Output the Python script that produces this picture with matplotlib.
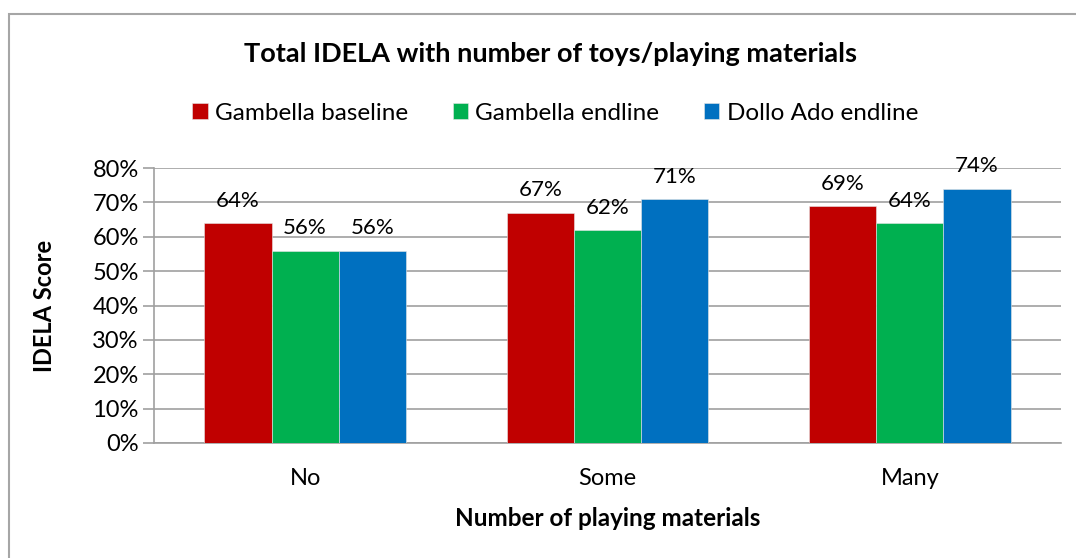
import matplotlib.pyplot as plt
import numpy as np
from matplotlib.patches import Rectangle

plt.rcParams['font.family'] = ['Lato', 'DejaVu Sans']

categories = ['No', 'Some', 'Many']
series_names = ['Gambella baseline', 'Gambella endline', 'Dollo Ado endline']
gambella_baseline = [64, 67, 69]
gambella_endline = [56, 62, 64]
dollo_ado_endline = [56, 71, 74]
colors = ['#C00000', '#00B050', '#0070C0']

fig = plt.figure(figsize=(10.76, 5.58), dpi=100)
ax = fig.add_axes([0.1431, 0.2061, 0.9861 - 0.1431, 0.6989 - 0.2061])

x = np.arange(len(categories))
width = 0.222
series = [gambella_baseline, gambella_endline, dollo_ado_endline]
for i, (vals, name, c) in enumerate(zip(series, series_names, colors)):
    pos = x + (i - 1) * width
    ax.bar(pos, vals, width, color=c, label=name, zorder=3,
           edgecolor='#e6e6e6', linewidth=0.4)
    for p, v in zip(pos, vals):
        ax.annotate(f'{v}%', (p, v), xytext=(0, 16), textcoords='offset points',
                    ha='center', va='center', fontsize=16, zorder=4)

ax.set_xlim(-0.5, 2.5)
ax.set_ylim(0, 80)
ax.set_yticks(range(0, 81, 10))
ax.set_yticklabels([f'{t}%' for t in range(0, 81, 10)], fontsize=17)
ax.set_xticks(x)
ax.set_xticklabels(categories, fontsize=17)
ax.tick_params(axis='x', length=0, pad=18)
ax.tick_params(axis='y', length=8, color='#a0a0a0', width=1.2, pad=3)
ax.grid(axis='y', color='#a0a0a0', linewidth=1.2, zorder=0)
for s in ['top', 'right']:
    ax.spines[s].set_visible(False)
for s in ['left', 'bottom']:
    ax.spines[s].set_color('#a0a0a0')
    ax.spines[s].set_linewidth(1.2)

ax.set_ylabel('IDELA Score', fontsize=17, fontweight='bold', labelpad=26)
ax.set_xlabel('Number of playing materials', fontsize=17.5, fontweight='bold', labelpad=13)

fig.text(0.5115, 0.903, 'Total IDELA with number of toys/playing materials',
         ha='center', va='center', fontsize=19.5, fontweight='bold')

fig.legend(loc='center', bbox_to_anchor=(0.516, 0.797), ncol=3, frameon=False,
           fontsize=17.5, handlelength=0.62, handleheight=0.62, handletextpad=0.3,
           columnspacing=1.85)

# outer chart border (only left and top visible in the reference)
fig.add_artist(Rectangle((9 / 1076, -0.1), 1.2, 1.1 - 14 / 558,
                         transform=fig.transFigure, fill=False,
                         edgecolor='#a6a6a6', linewidth=1.5))

fig.savefig('out.png', dpi=100)
